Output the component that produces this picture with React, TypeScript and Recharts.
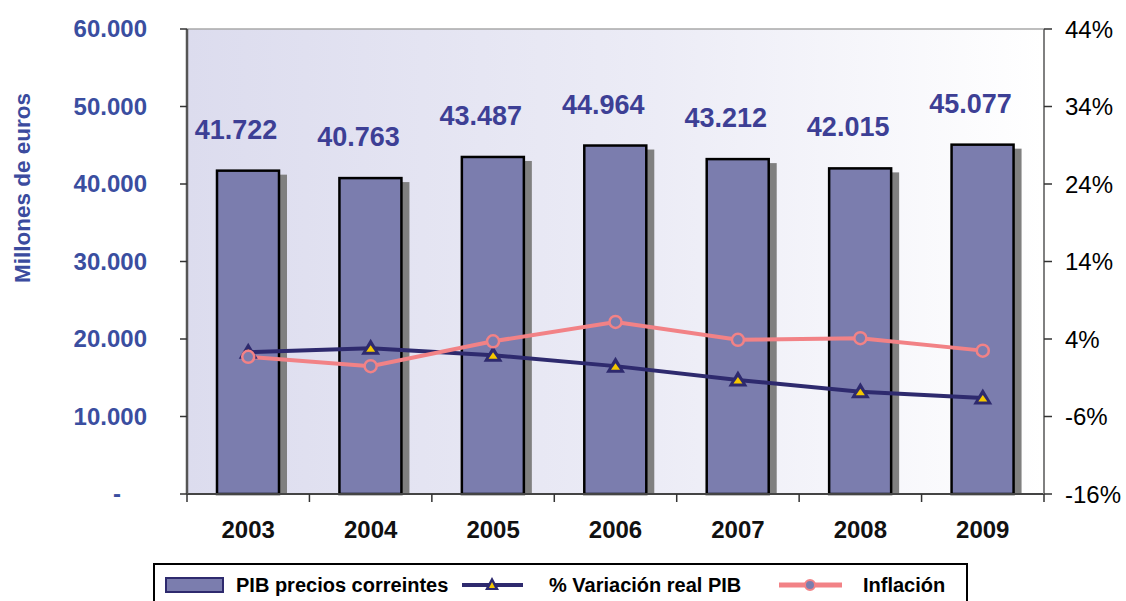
import {
  ComposedChart,
  Bar,
  Line,
  XAxis,
  YAxis,
  CartesianGrid,
  LabelList,
} from "recharts";

const years = ["2003", "2004", "2005", "2006", "2007", "2008", "2009"];
const pibCorrientes = [41722, 40763, 43487, 44964, 43212, 42015, 45077];
const variacionReal = [2.3, 2.8, 1.9, 0.5, -1.3, -2.8, -3.6];
const inflacion = [1.7, 0.5, 3.7, 6.2, 3.9, 4.1, 2.5];

const leftTicks = [0, 10000, 20000, 30000, 40000, 50000, 60000];
const rightTicks = [-16, -6, 4, 14, 24, 34, 44];

const data = years.map((year, i) => ({
  year,
  pib: pibCorrientes[i],
  variacion: variacionReal[i],
  inflacion: inflacion[i],
}));

const FONT = '"Liberation Sans", Arial, sans-serif';
const BAR_FILL = "#7b7dae";
const NAVY = "#2e2a6e";
const PINK = "#f28286";
const YELLOW = "#f5c800";

const fmtThousands = (n: number) =>
  String(n).replace(/\B(?=(\d{3})+(?!\d))/g, ".");

function LeftTick(props: any) {
  const { x, y, payload } = props;
  const v = payload.value as number;
  if (v === 0) {
    return (
      <text x={117} y={y} dy={8} textAnchor="middle" fill="#3a4ea0" fontSize={24} fontWeight="bold" fontFamily={FONT}>
        -
      </text>
    );
  }
  return (
    <text x={x} y={y} dy={8} textAnchor="end" fill="#3a4ea0" fontSize={24} fontWeight="bold" fontFamily={FONT}>
      {fmtThousands(v)}
    </text>
  );
}

function YearTick(props: any) {
  const { x, y, payload, index, visibleTicksCount } = props;
  const half = payload.offset || 857 / 14;
  const top = y - 8;
  return (
    <g>
      <line x1={x - half} y1={top} x2={x - half} y2={top + 8} stroke="#333" strokeWidth={1.5} />
      {index === (visibleTicksCount ?? 7) - 1 && (
        <line x1={x + half} y1={top} x2={x + half} y2={top + 8} stroke="#333" strokeWidth={1.5} />
      )}
      <text x={x} y={top + 36} dy={8} textAnchor="middle" fill="#111" fontSize={24} fontWeight="bold" fontFamily={FONT}>
        {payload.value}
      </text>
    </g>
  );
}

function ShadowBar(props: any) {
  const { x, y, width, height } = props;
  if (height == null || height <= 0) return null;
  return (
    <g>
      <rect x={x + 8} y={y + 4} width={width} height={height - 4} fill="#808080" />
      <rect x={x} y={y} width={width} height={height} fill={BAR_FILL} stroke="#000" strokeWidth={2.5} />
    </g>
  );
}

function TriangleDot(props: any) {
  const { cx, cy } = props;
  if (cx == null || cy == null) return null;
  return (
    <g>
      <polygon points={`${cx},${cy - 9.5} ${cx - 9.5},${cy + 6.5} ${cx + 9.5},${cy + 6.5}`} fill={NAVY} />
      <polygon points={`${cx},${cy - 3} ${cx - 4.5},${cy + 3.5} ${cx + 4.5},${cy + 3.5}`} fill={YELLOW} />
    </g>
  );
}

function CircleDot(props: any) {
  const { cx, cy } = props;
  if (cx == null || cy == null) return null;
  return <circle cx={cx} cy={cy} r={6} fill={BAR_FILL} stroke={PINK} strokeWidth={2.5} />;
}

function BarValue(props: any) {
  const { x, y, width, value } = props;
  return (
    <text
      x={x + width / 2 - 12}
      y={y - 42}
      dy={10}
      textAnchor="middle"
      fill="#3d3f95"
      fontSize={27}
      fontWeight="bold"
      fontFamily={FONT}
    >
      {fmtThousands(value)}
    </text>
  );
}

const legendText = {
  position: "absolute" as const,
  top: 573,
  fontFamily: FONT,
  fontWeight: "bold" as const,
  fontSize: 20,
  color: "#000",
  lineHeight: "24px",
  whiteSpace: "nowrap" as const,
};

export default function App() {
  return (
    <div style={{ position: "absolute", left: 0, top: 0, width: 1126, height: 601, background: "#fff", overflow: "hidden" }}>
      <ComposedChart width={1126} height={601} data={data} margin={{ top: 29, right: 0, bottom: 0, left: 0 }}>
        <defs>
          <linearGradient id="plotBg" x1="0" y1="0" x2="1" y2="0">
            <stop offset="0%" stopColor="#dcdcee" />
            <stop offset="55%" stopColor="#ececf6" />
            <stop offset="100%" stopColor="#ffffff" />
          </linearGradient>
        </defs>
        <CartesianGrid vertical={false} stroke="#a8a8a8" strokeWidth={1.5} fill="url(#plotBg)" fillOpacity={1} />
        <XAxis
          dataKey="year"
          height={107}
          axisLine={{ stroke: "#444", strokeWidth: 2 }}
          tickLine={false}
          tick={<YearTick />}
          interval={0}
        />
        <YAxis
          yAxisId="left"
          width={187}
          domain={[0, 60000]}
          ticks={leftTicks}
          axisLine={{ stroke: "#555", strokeWidth: 2.5 }}
          tickLine={{ stroke: "#333", strokeWidth: 1.5 }}
          tickSize={7}
          tickMargin={33}
          tick={<LeftTick />}
          label={{
            content: () => (
              <text
                x={22}
                y={188}
                transform="rotate(-90 22 188)"
                textAnchor="middle"
                dominantBaseline="central"
                fill="#3b4b9e"
                fontSize={22.5}
                fontWeight="bold"
                fontFamily={FONT}
              >
                Millones de euros
              </text>
            ),
          }}
        />
        <YAxis
          yAxisId="right"
          orientation="right"
          width={82}
          domain={[-16, 44]}
          ticks={rightTicks}
          axisLine={{ stroke: "#808080", strokeWidth: 2 }}
          tickLine={{ stroke: "#333", strokeWidth: 1.5 }}
          tickSize={8}
          tickMargin={13}
          tickFormatter={(v: number) => `${v}%`}
          tick={{ fill: "#000", fontSize: 24, fontFamily: FONT }}
        />
        <Bar yAxisId="left" dataKey="pib" barSize={62} shape={<ShadowBar />} isAnimationActive={false}>
          <LabelList dataKey="pib" content={<BarValue />} />
        </Bar>
        <Line
          yAxisId="right"
          dataKey="variacion"
          stroke={NAVY}
          strokeWidth={4}
          dot={<TriangleDot />}
          activeDot={false}
          isAnimationActive={false}
        />
        <Line
          yAxisId="right"
          dataKey="inflacion"
          stroke={PINK}
          strokeWidth={4}
          dot={<CircleDot />}
          activeDot={false}
          isAnimationActive={false}
        />
      </ComposedChart>

      <div style={{ position: "absolute", left: 153, top: 563, width: 811, height: 60, border: "2px solid #000", background: "#fff" }} />
      <svg style={{ position: "absolute", left: 0, top: 0 }} width={1126} height={601} pointerEvents="none">
        <rect x={166} y={578} width={57} height={14} fill={BAR_FILL} stroke={NAVY} strokeWidth={2} />
        <line x1={462} y1={585} x2={523} y2={585} stroke={NAVY} strokeWidth={4} />
        <polygon points="492,577 485,590 499,590" fill={NAVY} />
        <polygon points="492,582 489,588 495,588" fill={YELLOW} />
        <line x1={779} y1={585} x2={842} y2={585} stroke={PINK} strokeWidth={5} />
        <circle cx={810} cy={585} r={5} fill={BAR_FILL} stroke={PINK} strokeWidth={2} />
      </svg>
      <span style={{ ...legendText, left: 236 }}>PIB precios correintes</span>
      <span style={{ ...legendText, left: 549 }}>% Variación real PIB</span>
      <span style={{ ...legendText, left: 863 }}>Inflación</span>
    </div>
  );
}
